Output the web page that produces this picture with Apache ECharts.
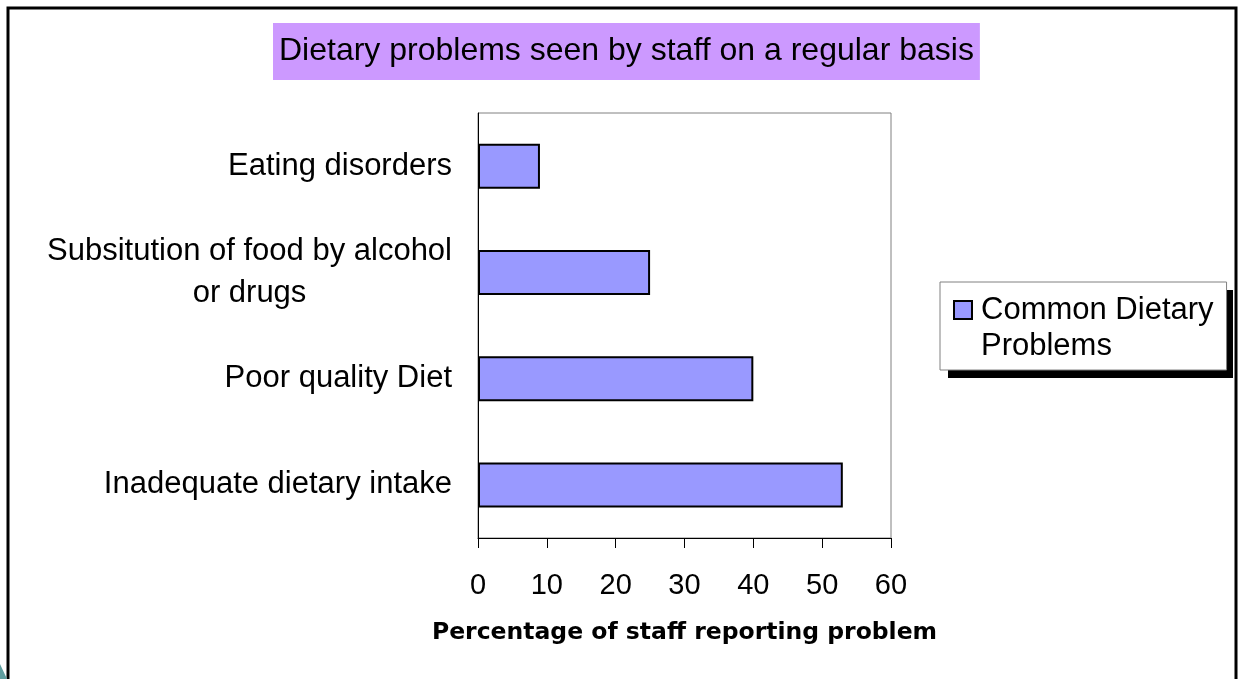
<!DOCTYPE html>
<html>
<head>
<meta charset="utf-8">
<script src="https://cdn.jsdelivr.net/npm/echarts@6/dist/echarts.min.js"></script>
<style>
    html, body { margin: 0; padding: 0; background: #fff; }
    #chart { width: 1239px; height: 679px; }
</style>
</head>
<body>
<div id="chart"></div>
<script>
// chart data
var categories = ['Inadequate dietary intake', 'Poor quality Diet', 'Subsitution of food by alcohol\nor drugs', 'Eating disorders'];
var values = [53, 40, 25, 9];
var seriesName = 'Common Dietary Problems';
var xTicks = { min: 0, max: 60, interval: 10 };

var font = 'Liberation Sans, Arial, sans-serif';

var option = {
    backgroundColor: '#fff',
    title: {
        text: 'Dietary problems seen by staff on a regular basis',
        left: 273,
        top: 23,
        padding: [11, 6],
        backgroundColor: '#cc99ff',
        textStyle: { fontFamily: font, fontSize: 32, fontWeight: 'normal', color: '#000', lineHeight: 35 }
    },
    legend: {
        left: 940,
        top: 282,
        orient: 'vertical',
        padding: [10, 13, 6, 13],
        itemWidth: 18,
        itemHeight: 54,
        icon: 'path://M0,0H10V10H0Z M0,30L0,30',
        backgroundColor: '#fff',
        borderColor: '#808080',
        borderWidth: 1,
        borderRadius: 0,
        textStyle: { fontFamily: font, fontSize: 31, lineHeight: 36, color: '#000', padding: [0, 0, 0, 4] },
        formatter: function (name) {
            return 'Common Dietary\nProblems';
        },
        data: [seriesName]
    },
    grid: {
        left: 478,
        top: 113,
        right: 348,
        bottom: 141,
        show: true,
        borderColor: '#808080',
        borderWidth: 1,
        containLabel: false
    },
    xAxis: {
        type: 'value',
        min: xTicks.min,
        max: xTicks.max,
        interval: xTicks.interval,
        name: 'Percentage of staff reporting problem',
        nameLocation: 'middle',
        nameGap: 83,
        nameTextStyle: { fontFamily: 'DejaVu Sans', fontSize: 23.5, fontWeight: 'bold', color: '#000' },
        axisLine: { show: true, lineStyle: { color: '#000', width: 1 } },
        axisTick: { show: true, length: 10, lineStyle: { color: '#000' } },
        axisLabel: { margin: 33, fontFamily: font, fontSize: 29, color: '#000' },
        splitLine: { show: false }
    },
    yAxis: {
        type: 'category',
        data: categories,
        axisLine: { show: true, lineStyle: { color: '#000', width: 1 } },
        axisTick: { show: false },
        axisLabel: {
            margin: 26,
            color: '#000',
            fontFamily: font,
            fontSize: 31,
            formatter: function (v) {
                return v.split('\n').map(function (s) { return '{c|' + s + '}'; }).join('\n');
            },
            rich: {
                c: { align: 'center', fontFamily: font, fontSize: 31, lineHeight: 42, color: '#000' }
            }
        }
    },
    series: [{
        name: seriesName,
        type: 'bar',
        barWidth: 45,
        data: values,
        itemStyle: { color: '#9999ff', borderColor: '#000', borderWidth: 2 }
    }],
    graphic: [{
        // slide frame
        type: 'rect',
        shape: { x: 8, y: 8, width: 1228, height: 700 },
        style: { fill: 'none', stroke: '#000', lineWidth: 3 },
        silent: true
    }, {
        // legend drop shadow
        type: 'rect',
        shape: { x: 948, y: 290, width: 285, height: 88 },
        style: { fill: '#000' },
        silent: true
    }, {
        type: 'polygon',
        shape: { points: [[0, 664], [7, 679], [0, 679]] },
        style: { fill: '#5f9ea0' },
        silent: true
    }]
};

var myChart = echarts.init(document.getElementById('chart'));
myChart.setOption(option);
</script>
</body>
</html>
